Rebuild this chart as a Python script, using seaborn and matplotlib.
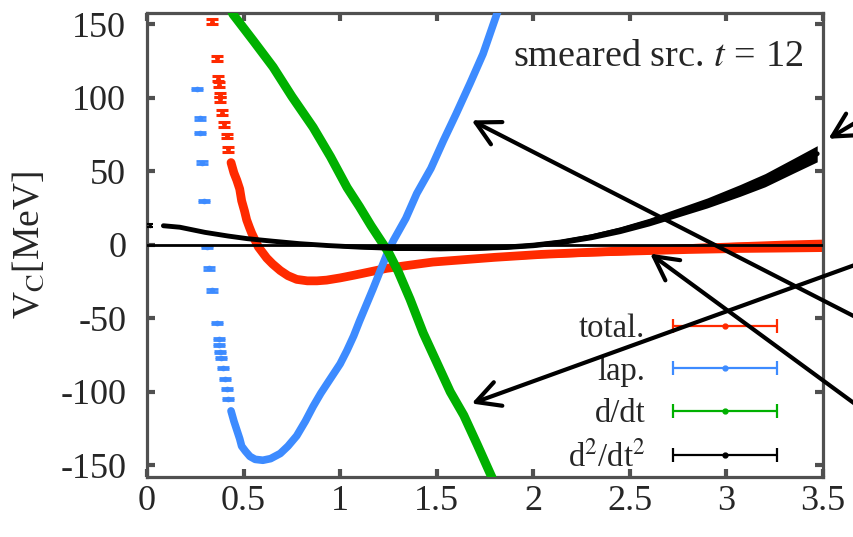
import numpy as np
import pandas as pd
import matplotlib
matplotlib.use("Agg")
import matplotlib.pyplot as plt
import seaborn as sns
from matplotlib.container import ErrorbarContainer
from matplotlib.legend_handler import HandlerErrorbar

# ---------------- data ----------------
labels = ["total.", "lap.", "d/dt", "d$^2$/dt$^2$"]
colors = ["#ff2a00", "#3d8bff", "#00b000", "#000000"]

# total.
total_sparse_r = [0.335, 0.361, 0.370, 0.372, 0.378, 0.380, 0.387, 0.400, 0.413, 0.421]
total_sparse_v = [152, 127, 113, 109, 102, 99, 90, 82, 74, 65]
total_sparse_e = [1.8, 1.8, 1.8, 1.8, 1.6, 1.6, 1.5, 1.5, 1.5, 1.5]
total_r = [0.435, 0.45, 0.465, 0.48, 0.49, 0.505, 0.516, 0.53, 0.542, 0.56, 0.577, 0.60,
           0.62, 0.65, 0.69, 0.73, 0.775, 0.83, 0.88, 0.93, 1.0, 1.07, 1.15, 1.24, 1.35,
           1.48, 1.65, 1.8, 2.04, 2.3, 2.55, 2.8, 3.07, 3.3, 3.5]
total_v = [56, 49, 44, 38, 30, 23, 17, 12, 8, 3, -1.5, -5.5, -9, -13, -17.5, -21, -23.5,
           -24.5, -24.5, -24, -22.5, -20.7, -18.5, -16, -14, -11.7, -10, -8.5, -6.5, -5,
           -3.7, -2.5, -1.5, -0.8, -0.3]
total_e = [1, 1, 1, 1, 1, 1, 1, 1, 1, 1, 1, 1, 1, 1, 1, 1, 1, 1, 1, 1, 1, 1, 1, 1.2, 1.4,
           1.6, 1.8, 2.0, 2.3, 2.6, 3.0, 3.3, 3.6, 4.0, 4.2]

# lap.
lap_sparse_r = [0.257, 0.274, 0.274, 0.286, 0.297, 0.309, 0.323, 0.335, 0.361, 0.373,
                0.373, 0.378, 0.382, 0.392, 0.404, 0.413, 0.421]
lap_sparse_v = [106, 86, 76, 56, 30, -1.5, -16, -31, -53, -64, -68, -73, -77, -84, -91.5,
                -98, -105]
lap_sparse_e = [0.8] * 17
lap_r = [0.435, 0.45, 0.465, 0.48, 0.49, 0.51, 0.533, 0.56, 0.60, 0.64, 0.69, 0.73, 0.775,
         0.82, 0.86, 0.90, 0.95, 1.0, 1.035, 1.07, 1.10, 1.17, 1.24, 1.276, 1.34, 1.397,
         1.47, 1.535, 1.60, 1.673, 1.74, 1.811, 1.84]
lap_v = [-113, -120, -126, -132, -137, -140.5, -144, -146, -146.6, -145.5, -142, -137,
         -130, -120, -110, -101, -91, -81, -72, -62, -52, -30, -7, 3, 18, 35, 52, 71, 89,
         110, 130, 157, 167]

# d/dt
ddt_r = [0.42, 0.445, 0.55, 0.653, 0.75, 0.86, 0.95, 1.036, 1.10, 1.16, 1.21, 1.25, 1.30,
         1.362, 1.43, 1.50, 1.57, 1.64, 1.71, 1.785, 1.81]
ddt_v = [165, 157, 139, 121, 101, 80, 60, 39, 26, 13, 3, -5, -18, -37, -60, -80, -100,
         -116, -136, -158, -166]

# d2/dt2
d2_sparse_r = [0.016]
d2_sparse_v = [13]
d2_sparse_e = [1.0]
d2_r = [0.085, 0.17, 0.3, 0.42, 0.52, 0.65, 0.79, 0.94, 1.09, 1.3, 1.52, 1.7, 1.86, 2.0,
        2.14, 2.3, 2.45, 2.6, 2.75, 2.9, 3.07, 3.2, 3.35, 3.47]
d2_v = [13, 12, 8.5, 6, 4.2, 2.5, 0.8, -0.5, -1.5, -2.5, -2.6, -2.3, -1.5, -0.2, 1.9,
        5.5, 10, 15.5, 22, 28.5, 37, 44, 54, 62]
d2_e = [0.3, 0.3, 0.4, 0.5, 0.6, 0.7, 0.8, 0.9, 1.0, 1.2, 1.4, 1.5, 1.6, 1.7, 1.8, 2.0,
        2.3, 2.6, 3.0, 3.4, 4.0, 4.5, 5.0, 5.5]

xticks = [0, 0.5, 1, 1.5, 2, 2.5, 3, 3.5]
xtick_labels = ["0", "0.5", "1", "1.5", "2", "2.5", "3", "3.5"]
yticks = [-150, -100, -50, 0, 50, 100, 150]
ytick_labels = ["-150", "-100", "-50", "0", "50", "100", "150"]

# ---------------- style ----------------
sns.set_theme(style="ticks")
plt.rcParams["font.family"] = ["Liberation Serif", "DejaVu Serif"]
plt.rcParams["mathtext.fontset"] = "stix"
frame_col = "#505050"

fig = plt.figure(figsize=(8.54, 5.37), dpi=100)
ax = fig.add_axes([147 / 854, 1 - 477 / 537, 676 / 854, 464.3 / 537])

# total.
ax.fill_between(total_r, np.array(total_v) - np.array(total_e),
                np.array(total_v) + np.array(total_e), color=colors[0], lw=0, zorder=2)
sns.lineplot(x=total_r, y=total_v, ax=ax, color=colors[0], lw=6.3, estimator=None,
             sort=False, legend=False, zorder=2)
ax.errorbar(total_sparse_r, total_sparse_v, yerr=total_sparse_e, fmt=".", ms=5,
            color=colors[0], capsize=4, elinewidth=2.2, capthick=2.2, zorder=2)

# lap.
sns.lineplot(x=lap_r, y=lap_v, ax=ax, color=colors[1], lw=5.5, estimator=None,
             sort=False, legend=False, zorder=3)
ax.errorbar(lap_sparse_r, lap_sparse_v, yerr=lap_sparse_e, fmt=".", ms=6,
            color=colors[1], capsize=4, elinewidth=2, capthick=2, zorder=3)

# d/dt
sns.lineplot(x=ddt_r, y=ddt_v, ax=ax, color=colors[2], lw=6.5, estimator=None,
             sort=False, legend=False, zorder=4)

# d2/dt2
ax.fill_between(d2_r, np.array(d2_v) - np.array(d2_e), np.array(d2_v) + np.array(d2_e),
                color=colors[3], lw=0, zorder=5)
sns.lineplot(x=d2_r, y=d2_v, ax=ax, color=colors[3], lw=3.5, estimator=None,
             sort=False, legend=False, zorder=5)
ax.errorbar(d2_sparse_r, d2_sparse_v, yerr=d2_sparse_e, fmt=".", ms=3,
            color=colors[3], capsize=2.5, elinewidth=1.5, capthick=1.5, zorder=5)

# zero line
ax.axhline(0, color="black", lw=2.0, zorder=6)

ax.set_xlim(0, 3.5)
ax.set_ylim(-158, 158)
ax.set_xticks(xticks)
ax.set_xticklabels(xtick_labels)
ax.set_yticks(yticks)
ax.set_yticklabels(ytick_labels)
ax.tick_params(axis="both", direction="in", length=6, width=3, color=frame_col,
               labelsize=26, top=True, right=True)
ax.tick_params(axis="y", pad=15)
ax.tick_params(axis="x", pad=6)
for s in ax.spines.values():
    s.set_linewidth(2.3)
    s.set_color(frame_col)
ax.set_xlabel("")
ax.set_ylabel(r"V$_\mathrm{C}$[MeV]", fontsize=27)
ax.yaxis.set_label_coords(-0.148, 0.5)

ax.text(0.97, 0.905, r"smeared src. $t$ = 12", transform=ax.transAxes, ha="right",
        va="center", fontsize=27.5)

# legend (gnuplot style: label then horizontal error-bar sample)
handles = []
for c in colors:
    h = ax.errorbar([np.nan], [np.nan], xerr=[np.nan], fmt="o", ms=3.5, color=c,
                    capsize=5, elinewidth=1.6, capthick=1.6)
    handles.append(h)
leg = ax.legend(handles, labels, loc="lower right", bbox_to_anchor=(0.935, 0.008),
                frameon=False, markerfirst=False, fontsize=23.5, handlelength=3.3,
                handletextpad=0.8, labelspacing=0.36, borderpad=0, borderaxespad=0,
                handler_map={ErrorbarContainer: HandlerErrorbar(xerr_size=1.6)})

# arrows from outside the frame
arrow_kw = dict(arrowstyle="->,head_length=0.85,head_width=0.45", lw=3.0,
                color="black", shrinkA=0, shrinkB=0, mutation_scale=20)
arrows = [((1.681, 84.7), (1.02, 0.3948)),
          ((2.605, -6.0), (1.02, 0.2259)),
          ((1.681, -108.0), (1.02, 0.5175)),
          ((3.528, 72.2), (1.02, 0.789))]
for tip, tail in arrows:
    ax.annotate("", xy=tip, xycoords="data", xytext=tail, textcoords="figure fraction",
                arrowprops=arrow_kw, annotation_clip=False, zorder=10)

fig.savefig("out.png", dpi=100)
